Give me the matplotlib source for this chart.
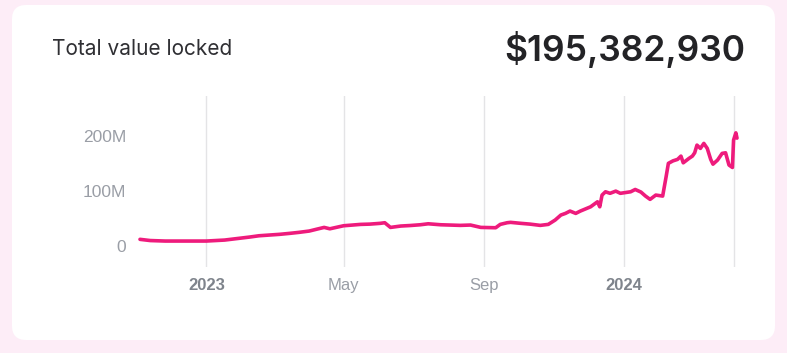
import matplotlib
matplotlib.use("Agg")
import matplotlib.pyplot as plt
from matplotlib.patches import FancyBboxPatch
import numpy as np

dates = ["2022-11-04", "2022-11-13", "2022-11-26", "2022-12-14", "2023-01-01", "2023-01-17",
         "2023-02-08", "2023-02-16", "2023-03-06", "2023-03-15", "2023-03-23", "2023-04-01",
         "2023-04-08", "2023-04-14", "2023-04-19", "2023-05-01", "2023-05-16", "2023-05-24",
         "2023-06-02", "2023-06-06", "2023-06-11", "2023-06-20", "2023-06-28", "2023-07-07",
         "2023-07-14", "2023-07-25", "2023-08-02", "2023-08-11", "2023-08-20", "2023-08-29",
         "2023-09-11", "2023-09-15", "2023-09-21", "2023-09-24", "2023-10-03", "2023-10-11",
         "2023-10-20", "2023-10-27", "2023-11-02", "2023-11-07", "2023-11-11", "2023-11-15",
         "2023-11-20", "2023-11-24", "2023-12-03", "2023-12-09", "2023-12-11", "2023-12-13",
         "2023-12-16", "2023-12-20", "2023-12-25", "2023-12-29", "2024-01-07", "2024-01-11",
         "2024-01-16", "2024-01-20", "2024-01-24", "2024-01-29", "2024-02-04", "2024-02-07",
         "2024-02-09", "2024-02-13", "2024-02-17", "2024-02-20", "2024-02-22", "2024-02-27",
         "2024-03-01", "2024-03-03", "2024-03-05", "2024-03-08", "2024-03-11", "2024-03-14",
         "2024-03-17", "2024-03-19", "2024-03-23", "2024-03-27", "2024-03-30", "2024-04-02",
         "2024-04-05", "2024-04-06", "2024-04-08", "2024-04-09"]
tvl_millions = [11.3, 9.1, 8.2, 8.2, 8.2, 10.0,
                15.5, 17.8, 20.4, 22.2, 24.0, 26.4,
                30.0, 33.0, 30.5, 36.0, 38.5, 39.0,
                40.4, 41.5, 33.0, 35.5, 36.4, 37.8,
                39.6, 37.8, 37.3, 36.7, 37.3, 33.0,
                32.4, 38.5, 41.5, 42.2, 40.4, 39.0,
                36.7, 38.5, 46.4, 55.5, 58.5, 62.7,
                58.5, 62.7, 70.5, 79.6, 70.5, 91.8,
                97.8, 95.0, 99.0, 95.0, 97.8, 102.0,
                97.3, 90.0, 84.0, 91.8, 90.0, 125.0,
                149.5, 154.0, 156.7, 162.7, 150.5, 158.5,
                162.7, 168.7, 182.7, 176.7, 185.8, 176.7,
                156.7, 148.0, 155.5, 167.6, 168.7, 146.4,
                142.0, 191.8, 205.0, 195.4]

title_text = "Total value locked"
value_text = "$195,382,930"
ytick_vals = [0, 100, 200]
ytick_labels = ["0", "100M", "200M"]
xtick_dates = ["2023-01-01", "2023-05-01", "2023-09-01", "2024-01-01"]
xtick_labels = ["2023", "May", "Sep", "2024"]
xtick_bold = [True, False, False, True]
extra_grid_date = "2024-04-06"

W, H = 787, 353
fig = plt.figure(figsize=(W / 100, H / 100), dpi=100)
fig.patch.set_facecolor("#fdedf7")

card = FancyBboxPatch((12 / W, 1 - 340 / H), (775 - 12) / W, (340 - 5) / H,
                      boxstyle="round,pad=0,rounding_size=0.018",
                      transform=fig.transFigure, facecolor="white", edgecolor="none",
                      mutation_aspect=W / H, zorder=-5)
fig.patches.append(card)

fig.text(52 / W, 1 - 49 / H, title_text, family=["Inter", "DejaVu Sans"], fontsize=15,
         color="#2f2f33", ha="left", va="center")
fig.text(745 / W, 1 - 49 / H, value_text, family=["Inter", "DejaVu Sans"], fontsize=25.5,
         fontweight="semibold", color="#232326", ha="right", va="center")

left, right, top, bottom = 140, 737, 96, 267
ax = fig.add_axes([left / W, 1 - bottom / H, (right - left) / W, (bottom - top) / H])
ax.set_facecolor("none")
ax.set_zorder(2)

x = np.array(dates, dtype="datetime64[D]")
y = np.array(tvl_millions)
ax.plot(x, y, color="#ee1b7c", lw=2.6, solid_joinstyle="round", solid_capstyle="round",
        clip_on=False, zorder=3)

ax.set_xlim(x[0], x[-1])
ax.set_ylim(-39, 272)

xt = np.array(xtick_dates, dtype="datetime64[D]")
ax.set_xticks(xt)
ax.set_xticklabels(xtick_labels)
for lab, b in zip(ax.get_xticklabels(), xtick_bold):
    lab.set_fontweight("bold" if b else "normal")
    lab.set_color("#7f848c" if b else "#9a9ea6")
    lab.set_family(["Liberation Sans", "DejaVu Sans"])
    lab.set_fontsize(12)
ax.tick_params(axis="x", length=0, pad=8)
ax.grid(axis="x", color="#e4e4e6", lw=1)
ax.axvline(np.datetime64(extra_grid_date), color="#e4e4e6", lw=1, zorder=0)

ax.set_yticks(ytick_vals)
ax.set_yticklabels(ytick_labels)
for lab in ax.get_yticklabels():
    lab.set_color("#9a9ea6")
    lab.set_family(["Liberation Sans", "DejaVu Sans"])
    lab.set_fontsize(12.5)
ax.tick_params(axis="y", length=0, pad=10)
for s in ax.spines.values():
    s.set_visible(False)

fig.savefig("out.png", dpi=100)
